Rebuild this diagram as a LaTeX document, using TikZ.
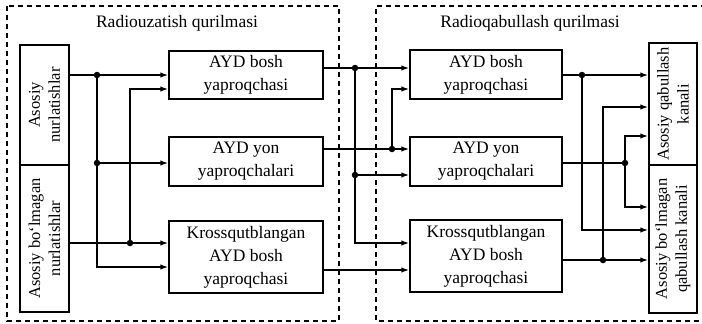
\documentclass[tikz,border=0pt]{standalone}
\usepackage{fontspec}
\setmainfont{Liberation Serif}
\usetikzlibrary{arrows.meta}
\begin{document}
\begin{tikzpicture}[x=1pt,y=-1pt,line width=1.4pt,
  box/.style={draw,inner sep=0pt,align=center,font=\fontsize{17.5}{23}\selectfont},
  vbox/.style={draw,inner sep=0pt,align=center,font=\fontsize{16.5}{20}\selectfont},
  frame/.style={dash pattern=on 5pt off 4pt},
  arr/.style={-{Latex[length=8pt,width=5.5pt]}},
  dot/.style={circle,fill,inner sep=0pt,minimum size=6.5pt},
  title/.style={font=\fontsize{17.5}{21}\selectfont}]
\useasboundingbox (0,0) rectangle (702,324);

% device frames
\draw[frame] (7,6) rectangle (339,321);
\draw[frame] (706,6) -- (376,6) -- (376,321) -- (706,321);
\node[title] (t1) at (177,23) {Radiouzatish qurilmasi};
\node[title] (t2) at (530,23) {Radioqabullash qurilmasi};

% sources
\node[vbox,minimum width=120pt,minimum height=49pt,rotate=90] (tA) at (44.5,105) {Asosiy\\nurlatishlar};
\node[vbox,minimum width=147pt,minimum height=49pt,rotate=90] (tB) at (44.5,238.5) {Asosiy bo‘lmagan\\nurlatishlar};

% transmitting antenna lobes
\node[box,minimum width=154pt,minimum height=48pt] (lb) at (246,75) {AYD bosh\\yaproqchasi};
\node[box,minimum width=154pt,minimum height=49pt] (ly) at (246,161.5) {AYD yon\\yaproqchalari};
\node[box,minimum width=154pt,minimum height=72pt] (lk) at (246,257) {Krossqutblangan\\AYD bosh\\yaproqchasi};

% receiving antenna lobes
\node[box,minimum width=152pt,minimum height=49pt] (rb) at (486,74.5) {AYD bosh\\yaproqchasi};
\node[box,minimum width=152pt,minimum height=49pt] (ry) at (486,161.5) {AYD yon\\yaproqchalari};
\node[box,minimum width=152pt,minimum height=72pt] (rk) at (486,256) {Krossqutblangan\\AYD bosh\\yaproqchasi};

% receiving channels
\node[vbox,minimum width=122pt,minimum height=48pt,rotate=90] (rA) at (673,104) {Asosiy qabullash\\kanali};
\node[vbox,minimum width=148pt,minimum height=48pt,rotate=90] (rB) at (673,239) {Asosiy bo‘lmagan\\qabullash kanali};

% junctions and bends
\coordinate (d1) at (97,75);   \coordinate (k1) at (97,267);
\coordinate (d2) at (97,163);
\coordinate (d3) at (130,243); \coordinate (k2) at (130,89);
\coordinate (d4) at (355,68);  \coordinate (k3) at (355,243);
\coordinate (d5) at (355,175);
\coordinate (d6) at (392,149); \coordinate (k4) at (392,89);
\coordinate (m1) at (366,270);
\coordinate (d7) at (582,75);  \coordinate (k5) at (582,230);
\coordinate (d8) at (625,163); \coordinate (k6) at (625,136); \coordinate (k7) at (625,207);
\coordinate (d9) at (603,260); \coordinate (k8) at (603,107);

% transmitter side
\draw[arr] (tA.south |- d1) -- (d1 -| lb.west);
\draw[arr] (d1) -- (k1) -- (k1 -| lk.west);
\draw[arr] (d2) -- (d2 -| ly.west);
\draw[arr] (tB.south |- d3) -- (d3 -| lk.west);
\draw[arr] (d3) -- (k2) -- (k2 -| lb.west);

% propagation path
\draw[arr] (lb.east |- d4) -- (d4 -| rb.west);
\draw[arr] (d4) -- (k3) -- (k3 -| rk.west);
\draw[arr] (d5) -- (d5 -| ry.west);
\draw[arr] (ly.east |- d6) -- (d6 -| ry.west);
\draw[arr] (d6) -- (k4) -- (k4 -| rb.west);
\draw[arr] (lk.east |- m1) -- (m1 -| rk.west);

% receiver side
\draw[arr] (rb.east |- d7) -- (d7 -| rA.north);
\draw[arr] (d7) -- (k5) -- (k5 -| rB.north);
\draw (ry.east |- d8) -- (d8);
\draw[arr] (d8) -- (k6) -- (k6 -| rA.north);
\draw[arr] (d8) -- (k7) -- (k7 -| rB.north);
\draw[arr] (rk.east |- d9) -- (d9 -| rB.north);
\draw[arr] (d9) -- (k8) -- (k8 -| rA.north);

% junction dots
\foreach \p in {d1,d2,d3,d4,d5,d6,d7,d8,d9} \node[dot] at (\p) {};
\end{tikzpicture}
\end{document}
